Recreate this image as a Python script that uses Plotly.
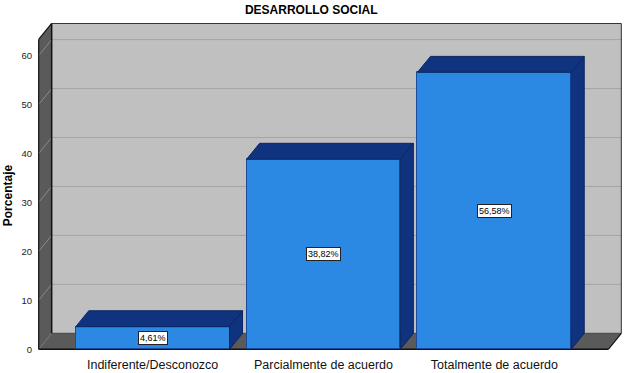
import plotly.graph_objects as go

categories = ["Indiferente/Desconozco", "Parcialmente de acuerdo", "Totalmente de acuerdo"]
values = [4.61, 38.82, 56.58]
value_labels = ["4,61%", "38,82%", "56,58%"]
y_ticks = [0, 10, 20, 30, 40, 50, 60]

FRONT = "#2B88E3"
DARK = "#10337F"
EDGE = "#0B2660"
WALL = "#5A5A5A"
BACK = "#C0C0C0"
GRID = "#A4A4A4"
FONT = "Arial, Liberation Sans, sans-serif"

x0, x1 = -0.667, 2.667
ytop = 63.3
DX, DY = 0.076, 3.26
BW = 0.9

xs = list(range(len(categories)))

fig = go.Figure()
fig.add_trace(go.Bar(x=xs, y=values, width=BW,
                     marker=dict(color=FRONT, line=dict(color="#1A4C9A", width=1)),
                     hoverinfo="skip", showlegend=False))
for i, v in zip(xs, values):
    l, r = i - BW / 2, i + BW / 2
    fig.add_trace(go.Scatter(x=[l, r, r + DX, l + DX, l], y=[v, v, v + DY, v + DY, v],
                             fill="toself", fillcolor=DARK, mode="lines",
                             line=dict(color=EDGE, width=1), hoverinfo="skip", showlegend=False))
    fig.add_trace(go.Scatter(x=[r, r + DX, r + DX, r, r], y=[0, DY, v + DY, v, 0],
                             fill="toself", fillcolor=DARK, mode="lines",
                             line=dict(color=EDGE, width=1), hoverinfo="skip", showlegend=False))

shapes = []
shapes.append(dict(type="rect", x0=x0 + DX, x1=x1 + DX, y0=DY, y1=ytop + DY,
                   fillcolor=BACK, line=dict(width=0), layer="below"))
shapes.append(dict(type="path",
                   path=f"M {x0},0 L {x0+DX},{DY} L {x0+DX},{ytop+DY} L {x0},{ytop} Z",
                   fillcolor=WALL, line=dict(width=0), layer="below"))
shapes.append(dict(type="path",
                   path=f"M {x0},0 L {x1},0 L {x1+DX},{DY} L {x0+DX},{DY} Z",
                   fillcolor=WALL, line=dict(width=0), layer="below"))
for t in y_ticks[1:]:
    shapes.append(dict(type="line", x0=x0 + DX, x1=x1 + DX, y0=t + DY, y1=t + DY,
                       line=dict(color=GRID, width=1), layer="below"))
    shapes.append(dict(type="line", x0=x0, x1=x0 + DX, y0=t, y1=t + DY,
                       line=dict(color="#8A8A8A", width=1), layer="below"))

def edge(xa, ya, xb, yb, color="#111111", w=1.2):
    shapes.append(dict(type="line", x0=xa, y0=ya, x1=xb, y1=yb,
                       line=dict(color=color, width=w), layer="below"))

edge(x0, 0, x0, ytop)
edge(x0, ytop, x0 + DX, ytop + DY)
edge(x0 + DX, ytop + DY, x1 + DX, ytop + DY, "#333333", 1)
edge(x1 + DX, DY, x1 + DX, ytop + DY, "#333333", 1)
edge(x0 + DX, DY, x0 + DX, ytop + DY, "#111111", 1.5)
edge(x0 + DX, DY, x1 + DX, DY, "#444444", 1)
edge(x0, 0, x1, 0, "#111111", 1.5)
edge(x1, 0, x1 + DX, DY, "#111111", 1.2)

annotations = []
for i, v, lab in zip(xs, values, value_labels):
    annotations.append(dict(x=i, y=v / 2, xref="x", yref="y", text=lab, showarrow=False,
                            bgcolor="white", bordercolor="#222222", borderwidth=1, borderpad=1,
                            font=dict(family=FONT, size=9, color="black")))
annotations.append(dict(x=-0.051, y=0.474, xref="paper", yref="paper", text="<b>Porcentaje</b>",
                        textangle=-90, showarrow=False, xanchor="center", yanchor="middle",
                        font=dict(family=FONT, size=12, color="black")))

fig.update_layout(
    width=625, height=373,
    margin=dict(l=38, r=3, t=23, b=23, autoexpand=False),
    paper_bgcolor="white", plot_bgcolor="white",
    title=dict(text="<b>DESARROLLO SOCIAL</b>", x=0.498, xanchor="center",
               y=1 - 10 / 373, yanchor="middle", font=dict(family=FONT, size=12, color="black")),
    xaxis=dict(range=[x0 - 0.004, x1 + DX + 0.004], tickvals=xs, ticktext=categories,
               showgrid=False, zeroline=False, showline=False, ticks="", automargin=False,
               tickfont=dict(family=FONT, size=12.5, color="#111111"), ticklabelstandoff=5),
    yaxis=dict(range=[-0.15, ytop + DY + 0.1], tickvals=y_ticks, showgrid=False, zeroline=False,
               showline=False, ticks="", automargin=False,
               tickfont=dict(family=FONT, size=9.5, color="#222222"), ticklabelstandoff=5),
    shapes=shapes, annotations=annotations, bargap=0, showlegend=False,
)

fig.write_html("out.html", config={"displayModeBar": False},
               post_script="document.body.style.margin='0';document.body.style.overflow='hidden';")
